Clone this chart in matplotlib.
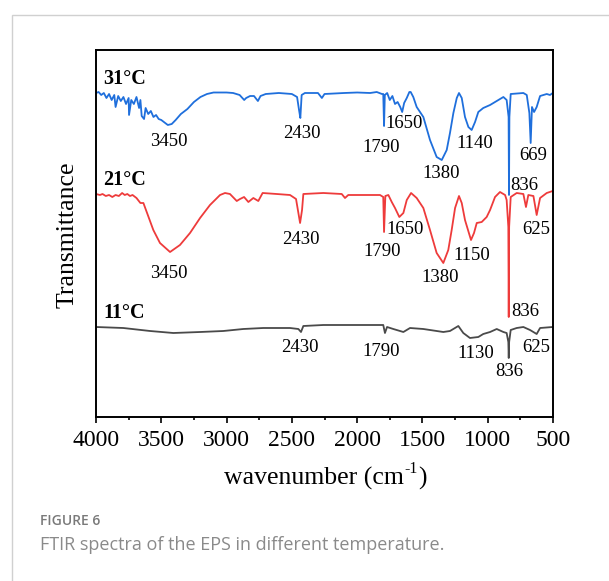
import matplotlib
matplotlib.use("Agg")
import matplotlib.pyplot as plt
from matplotlib.patches import Rectangle
from matplotlib.ticker import MultipleLocator

# ---------------- data (wavenumber cm-1, transmittance a.u. with offsets) ----------------
wn_31 = [4000, 3980, 3960, 3940, 3920, 3900, 3880, 3860, 3850, 3830, 3810, 3790, 3770, 3750,
         3747, 3730, 3710, 3690, 3670, 3660, 3650, 3632, 3620, 3600, 3580, 3560, 3540, 3520,
         3500, 3470, 3450, 3420, 3390, 3350, 3300, 3250, 3200, 3150, 3100, 3050, 3000, 2950,
         2900, 2865, 2850, 2820, 2790, 2760, 2740, 2700, 2600, 2500, 2460, 2445, 2435, 2425,
         2400, 2300, 2270, 2250, 2100, 2000, 1900, 1850, 1810, 1800, 1794, 1788, 1770, 1750,
         1730, 1710, 1690, 1670, 1655, 1640, 1620, 1600, 1590, 1570, 1544, 1493, 1442, 1391,
         1352, 1314, 1289, 1263, 1237, 1220, 1199, 1174, 1148, 1123, 1097, 1072, 1034, 982,
         931, 880, 855, 840, 837, 834, 824, 727, 701, 681, 671, 661, 645, 625, 599, 548, 523, 502]
tr_31 = [324, 325, 322, 324, 319, 323, 317, 322, 310, 321, 316, 320, 313, 319,
         302, 317, 313, 320, 309, 317, 301, 298, 309, 303, 306, 300, 302, 298,
         297, 294, 292, 293, 297, 303, 308, 315, 320, 323, 324.5, 324.5, 324.5, 324,
         322, 317, 319, 321, 321, 316, 321, 323, 324, 323, 320, 307, 299, 322,
         324, 324, 319, 323, 324, 324.5, 324, 325, 323, 323, 291, 322, 324, 317,
         321, 313, 315, 310, 305, 314, 319, 325, 325, 320, 310, 300, 277, 260,
         257, 267, 284, 304, 319, 324, 319, 300, 290, 287, 295, 305, 309, 312,
         316, 320, 317, 300, 222, 300, 323, 324, 322, 304, 274, 310, 305, 310, 321, 323, 322, 324]

wn_21 = [4000, 3970, 3950, 3925, 3900, 3875, 3850, 3825, 3800, 3780, 3760, 3740, 3720, 3690,
         3660, 3637, 3561, 3510, 3433, 3357,
         3280, 3203, 3127, 3050, 3012, 2974, 2922, 2897, 2866, 2833, 2795, 2757, 2724, 2616,
         2514, 2468, 2450, 2437, 2422, 2412, 2259, 2118, 2093, 2068, 1825, 1800, 1794, 1784,
         1761, 1735, 1710, 1677, 1646, 1620, 1587, 1544, 1493, 1442, 1391, 1340, 1302, 1276,
         1250, 1220, 1199, 1174, 1128, 1105, 1084, 1046, 1008, 982, 944, 906, 867, 855,
         842, 839, 836, 824, 778, 727, 707, 689, 650, 625, 599, 548, 502]
tr_21 = [223, 222, 223, 221, 222, 220, 222, 221, 224, 222, 223, 221, 222, 219,
         214, 214, 187, 174, 165, 172,
         184, 199, 212, 222, 224, 223, 216, 218, 220, 215, 219, 216, 224, 223,
         222, 218, 204, 194, 207, 223, 224, 223, 219, 222, 222, 220, 185, 221,
         222, 215, 209, 200, 204, 217, 224, 219, 209, 187, 164, 154, 167, 187,
         209, 221, 214, 197, 177, 184, 194, 195, 200, 207, 220, 225, 222, 217,
         190, 100, 190, 220, 224, 223, 210, 222, 221, 202, 219, 224, 226]

wn_11 = [4000, 3791, 3586, 3408, 3203, 3025, 2872, 2719, 2514, 2450, 2430, 2412, 2259, 2004,
         1800, 1787, 1771, 1723, 1646, 1595, 1493, 1340, 1289, 1225, 1187, 1136, 1072, 1034,
         982, 931, 880, 855, 842, 839, 836, 824, 778, 727, 676, 625, 599, 502]
tr_11 = [90, 89, 86, 84, 85, 86, 88, 89, 89, 88, 85, 91, 92, 92,
         92, 84, 90, 88, 85, 89, 88, 85, 86, 91, 84, 79, 80, 83,
         85, 88, 85, 84, 75, 59, 75, 87, 89, 90, 87, 83, 89, 90]

series_names = ["31°C", "21°C", "11°C"]
series_colors = ["#1f6fdc", "#ee3b3b", "#4a4a4a"]

# peak annotations: (text, wavenumber position, y position)
peaks_31 = [("3450", 3441, 275), ("2430", 2426, 284), ("1790", 1817, 270), ("1650", 1637, 294),
            ("1140", 1101, 274), ("669", 649, 262), ("1380", 1360, 244), ("836", 718, 231)]
peaks_21 = [("2430", 2430, 177), ("1790", 1810, 165), ("1650", 1630, 187), ("1150", 1122, 161),
            ("625", 625, 188), ("3450", 3441, 144), ("1380", 1365, 139), ("836", 714, 105)]
peaks_11 = [("2430", 2441, 69), ("1790", 1815, 66), ("1130", 1091, 64), ("625", 625, 70),
            ("836", 837, 45)]
name_pos = [(3946, 338), (3946, 237), (3946, 104)]

xticks = [4000, 3500, 3000, 2500, 2000, 1500, 1000, 500]

# ---------------- figure ----------------
W, H = 609, 581
fig = plt.figure(figsize=(W / 100, H / 100), dpi=100)
fig.patch.set_facecolor("white")

# light card frame
fig.add_artist(Rectangle((12 / W, -0.05), 1.2, (H - 15) / H + 0.05, transform=fig.transFigure,
                         fill=False, edgecolor="#d0d0d0", linewidth=1.0))

ax = fig.add_axes([96 / W, 1 - 417 / H, (553 - 96) / W, (417 - 50) / H])
serif = ["Liberation Serif", "DejaVu Serif"]

for wn, tr, col in zip([wn_31, wn_21, wn_11], [tr_31, tr_21, tr_11], series_colors):
    ax.plot(wn, tr, color=col, linewidth=1.3, solid_joinstyle="round")

for (nm, (px, py)) in zip(series_names, name_pos):
    ax.text(px, py, nm, family=serif, fontsize=14.5, fontweight="bold", ha="left", va="center")

for group in (peaks_31, peaks_21, peaks_11):
    for t, px, py in group:
        ax.text(px, py, t, family=serif, fontsize=13.5, ha="center", va="center")

ax.set_xlim(4000, 500)
ax.set_ylim(0, 367)
ax.set_xticks(xticks)
ax.set_xticklabels([str(v) for v in xticks], family=serif, fontsize=17)
ax.xaxis.set_minor_locator(MultipleLocator(250))
ax.tick_params(axis="x", which="major", direction="out", length=4.5, width=1.2, pad=5)
ax.tick_params(axis="x", which="minor", direction="out", length=2.5, width=1.2)
ax.set_yticks([])
for s in ax.spines.values():
    s.set_linewidth(1.4)

# x label built from pieces so that the superscript uses a plain hyphen
fig.canvas.draw()
rend = fig.canvas.get_renderer()
ylab = 1 - 478 / H
t1 = fig.text(0, ylab, "wavenumber (cm", family=serif, fontsize=18.5, ha="left", va="center")
t2 = fig.text(0, ylab + 9 / H, "-1", family=serif, fontsize=11.5, ha="left", va="center")
t3 = fig.text(0, ylab, ")", family=serif, fontsize=18.5, ha="left", va="center")
w1 = t1.get_window_extent(rend).width
w2 = t2.get_window_extent(rend).width
w3 = t3.get_window_extent(rend).width
x0 = 325 - (w1 + w2 + w3) / 2
t1.set_x(x0 / W)
t2.set_x((x0 + w1 + 0.5) / W)
t3.set_x((x0 + w1 + w2 + 1) / W)

fig.text(68 / W, 1 - 235 / H, "Transmittance", family=serif, fontsize=18.5, rotation=90,
         ha="center", va="center")

fig.text(40 / W, 1 - 521 / H, "FIGURE 6", family=["Open Sans", "DejaVu Sans"], fontsize=10,
         fontweight="semibold", color="#7a7a7a", ha="left", va="center")
fig.text(40 / W, 1 - 545 / H, "FTIR spectra of the EPS in different temperature.",
         family=["Open Sans", "DejaVu Sans"], fontsize=13, color="#8a8a8a", ha="left", va="center")

fig.savefig("out.png", dpi=100, facecolor="white")
